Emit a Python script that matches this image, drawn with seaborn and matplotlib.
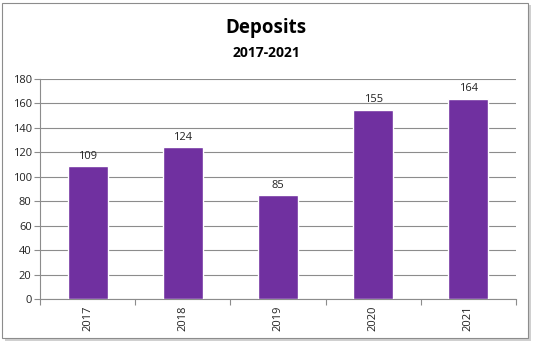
import matplotlib
matplotlib.use("Agg")
import matplotlib.pyplot as plt
from matplotlib.patches import Rectangle
import seaborn as sns
import pandas as pd

years = ["2017", "2018", "2019", "2020", "2021"]
deposits = [109, 124, 85, 155, 164]
y_ticks = [0, 20, 40, 60, 80, 100, 120, 140, 160, 180]

sns.set_theme(style="white")
plt.rcParams["font.family"] = ["Open Sans", "DejaVu Sans"]

df = pd.DataFrame({"year": years, "deposits": deposits})

fig = plt.figure(figsize=(5.35, 3.45), dpi=100)
fig.patch.set_facecolor("white")

# chart frame with a light drop shadow
fig.patches.append(Rectangle((5 / 535, 1 - 341 / 345), 526 / 535, 336 / 345,
                             transform=fig.transFigure, facecolor="#d0d0d0",
                             edgecolor="none", zorder=0))
fig.patches.append(Rectangle((2 / 535, 1 - 338 / 345), 526 / 535, 335 / 345,
                             transform=fig.transFigure, facecolor="white",
                             edgecolor="#8c8c8c", linewidth=0.8, zorder=1))

ax = fig.add_axes([40 / 535, 1 - 299 / 345, 476 / 535, 220 / 345])
ax.set_zorder(2)
sns.barplot(data=df, x="year", y="deposits", color="#7030A0", width=0.42,
            saturation=1, ax=ax, zorder=3)

ax.set_ylim(0, 180)
ax.set_yticks(y_ticks)
ax.set_xlim(-0.5, len(years) - 0.5)
ax.yaxis.grid(True, color="#8c8c8c", linewidth=0.8, zorder=0)
ax.set_axisbelow(True)
for s in ["top", "right"]:
    ax.spines[s].set_visible(False)
for s in ["left", "bottom"]:
    ax.spines[s].set_color("#8c8c8c")
    ax.spines[s].set_linewidth(0.8)
ax.set_xlabel("")
ax.set_ylabel("")

# y ticks on the left, x ticks at category boundaries
ax.tick_params(axis="y", which="major", left=True, length=4, width=0.8,
               color="#8c8c8c", labelsize=8, pad=2, labelcolor="#222222")
ax.tick_params(axis="x", which="major", bottom=False, length=0, labelsize=8,
               labelrotation=90, pad=5, labelcolor="#222222")
ax.set_xticks(range(len(years)))
ax.set_xticklabels(years)
ax.set_xticks([i - 0.5 for i in range(len(years) + 1)], minor=True)
ax.tick_params(axis="x", which="minor", bottom=True, length=4, width=0.8,
               color="#8c8c8c")

for c in ax.containers:
    ax.bar_label(c, labels=[str(v) for v in deposits], padding=3,
                 fontsize=8, color="#222222")

fig.text(266 / 535, 1 - 28 / 345, "Deposits", ha="center", va="center",
         fontsize=13.5, fontweight="bold", color="black")
fig.text(266 / 535, 1 - 53 / 345, "2017-2021", ha="center", va="center",
         fontsize=10, fontweight="bold", color="black")

fig.savefig("out.png", dpi=100)
